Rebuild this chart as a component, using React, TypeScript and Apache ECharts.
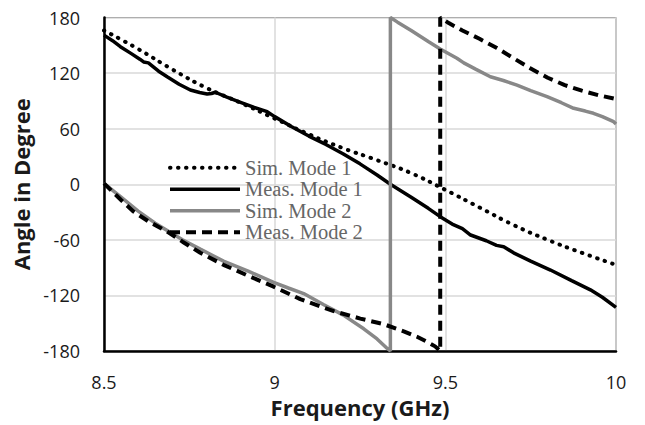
import React, { useEffect, useRef } from "react";
import * as echarts from "echarts";

const xTicks = [8.5, 9, 9.5, 10];
const yTicks = [-180, -120, -60, 0, 60, 120, 180];

const simMode1: [number, number][] = [
  [8.5, 166], [8.6, 146], [8.7, 124], [8.8, 104], [8.9, 88], [9.0, 71],
  [9.1, 54], [9.2, 39], [9.3, 26], [9.4, 12], [9.5, -6], [9.6, -25],
  [9.7, -44], [9.8, -60], [9.9, -74], [10, -87],
];

const measMode1: [number, number][] = [
  [8.5, 161], [8.525, 155], [8.548, 148.5], [8.58, 141], [8.605, 135], [8.616, 132], [8.63, 131],
  [8.66, 122], [8.685, 116], [8.72, 108], [8.753, 101.7], [8.78, 99], [8.802, 97.4],
  [8.815, 98], [8.826, 99.3], [8.86, 94], [8.9, 88.5], [8.94, 83], [8.978, 78.3],
  [9.0, 73], [9.05, 62], [9.1, 52], [9.15, 43], [9.2, 33], [9.25, 22], [9.3, 10],
  [9.339, 0], [9.4, -14], [9.45, -26], [9.485, -35], [9.52, -43], [9.55, -48],
  [9.574, -54.8], [9.62, -61], [9.65, -66], [9.671, -67.4], [9.7, -74], [9.75, -83],
  [9.808, -92.6], [9.87, -104], [9.925, -114], [9.96, -122], [10, -133],
];

const simMode2: [number, number][] = [
  [8.5, 1], [8.55, -14], [8.6, -29], [8.65, -42], [8.685, -50], [8.73, -60],
  [8.782, -70], [8.85, -83], [8.924, -94], [8.997, -106], [9.04, -112], [9.085, -118],
  [9.144, -130], [9.2, -141], [9.261, -156], [9.3, -167], [9.329, -177], [9.339, -180],
  [9.339, 180], [9.36, 175], [9.4, 166], [9.45, 154], [9.485, 146], [9.534, 136],
  [9.554, 131], [9.59, 124], [9.632, 116], [9.67, 112], [9.71, 107], [9.75, 101],
  [9.798, 94.5], [9.84, 88], [9.876, 82], [9.91, 79], [9.934, 76.6], [9.96, 73],
  [9.993, 67.5], [10, 65],
];

const measMode2Low: [number, number][] = [
  [8.5, 1], [8.55, -17], [8.587, -29.6], [8.63, -40], [8.685, -51], [8.73, -62],
  [8.782, -74], [8.85, -87], [8.924, -99], [8.997, -110.6], [9.075, -124], [9.173, -137],
  [9.251, -145], [9.319, -151], [9.38, -159], [9.417, -164.6], [9.446, -170],
  [9.47, -175], [9.485, -180],
];

const measMode2High: [number, number][] = [
  [9.485, 180], [9.51, 174], [9.55, 166], [9.6, 157], [9.651, 147], [9.7, 136],
  [9.75, 125], [9.8, 115], [9.85, 107], [9.9, 101], [9.95, 96], [10, 92],
];

const seriesNames = ["Sim. Mode 1", "Meas. Mode 1", "Sim. Mode 2", "Meas. Mode 2"];

export default function App() {
  const ref = useRef<HTMLDivElement>(null);
  useEffect(() => {
    if (!ref.current) return;
    const chart = echarts.init(ref.current, null, { renderer: "svg" });
    const labelFont = { fontFamily: "Open Sans", fontSize: 18, color: "#1a1a1a" };
    const titleFont = { fontFamily: "Open Sans", fontWeight: "bold", fontSize: 22, color: "#1a1a1a" };
    const styles = [
      { color: "#000", width: 4, type: [0.5, 7.5], cap: "round" },
      { color: "#000", width: 3.5, type: "solid" },
      { color: "#888", width: 3.5, type: "solid" },
      { color: "#000", width: 4, type: [10, 6] },
    ];
    chart.setOption({
      animation: false,
      backgroundColor: "#ffffff",
      grid: {
        left: 104, right: 29, top: 17.5, bottom: 74,
        show: true, borderColor: "#333", borderWidth: 1,
      },
      legend: {
        data: seriesNames.map((n, i) => ({ name: n, lineStyle: styles[i] })),
        orient: "vertical",
        left: 168, top: 157,
        padding: 0,
        itemWidth: 70, itemHeight: 14, itemGap: 0,
        itemStyle: { opacity: 0 },
        textStyle: { fontFamily: "Liberation Serif", fontSize: 20.5, color: "#666", lineHeight: 21.5 },
      },
      xAxis: {
        type: "value",
        min: xTicks[0], max: xTicks[xTicks.length - 1], interval: 0.5,
        axisLine: { show: true, onZero: false, lineStyle: { color: "#000", width: 2.5 } },
        axisTick: { show: false },
        splitLine: { show: true, lineStyle: { color: "#d9d9d9", width: 1.5 } },
        axisLabel: { ...labelFont, margin: 22, formatter: (v: number) => String(v) },
        name: "Frequency (GHz)",
        nameLocation: "middle",
        nameGap: 45,
        nameTextStyle: titleFont,
      },
      yAxis: {
        type: "value",
        min: yTicks[0], max: yTicks[yTicks.length - 1], interval: 60,
        axisLine: { show: true, onZero: false, lineStyle: { color: "#000", width: 2.5 } },
        axisTick: { show: false },
        splitLine: { show: true, lineStyle: { color: "#d9d9d9", width: 1.5 } },
        axisLabel: { ...labelFont, margin: 24 },
        name: "Angle in Degree",
        nameLocation: "middle",
        nameGap: 63,
        nameTextStyle: titleFont,
      },
      series: [
        {
          name: seriesNames[0], type: "line", data: simMode1, smooth: true, showSymbol: false, symbol: "none",
          lineStyle: styles[0], itemStyle: { color: "#000" },
        },
        {
          name: seriesNames[1], type: "line", data: measMode1, showSymbol: false, symbol: "none",
          lineStyle: styles[1], itemStyle: { color: "#000" },
        },
        {
          name: seriesNames[2], type: "line", data: simMode2, showSymbol: false, symbol: "none",
          lineStyle: styles[2], itemStyle: { color: "#888" },
        },
        {
          name: seriesNames[3], type: "line",
          data: [...measMode2Low, ...measMode2High],
          showSymbol: false, symbol: "none",
          lineStyle: styles[3], itemStyle: { color: "#000" },
        },
      ],
    });
    return () => chart.dispose();
  }, []);
  return (
    <div
      ref={ref}
      style={{ position: "fixed", left: 0, top: 0, width: 645, height: 425, background: "#fff" }}
    />
  );
}
